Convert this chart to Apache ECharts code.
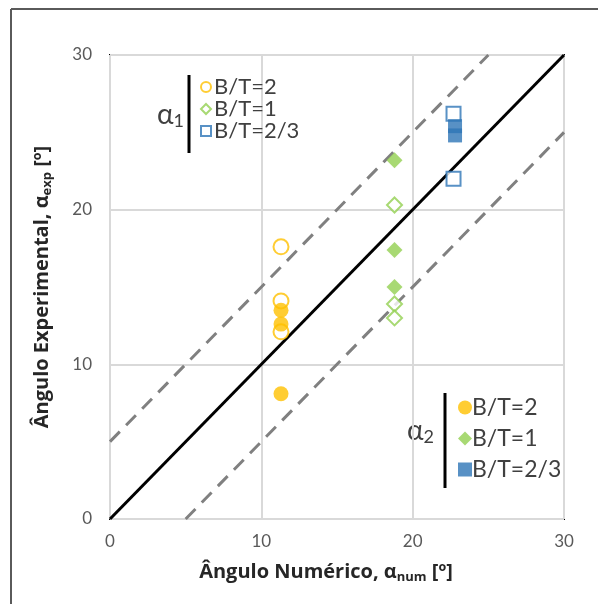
<!DOCTYPE html>
<html>
<head>
<meta charset="utf-8">
<script src="https://cdn.jsdelivr.net/npm/echarts@6/dist/echarts.min.js"></script>
<style>html,body{margin:0;padding:0;background:#fff}#c{width:598px;height:604px}</style>
</head>
<body>
<div id="c"></div>
<script>
// alpha_1 (open markers): [numerical, experimental]
const a1_BT2 = [[11.3, 17.6], [11.3, 14.1], [11.3, 12.1]];
const a1_BT1 = [[18.8, 20.3], [18.8, 13.9], [18.8, 13.0]];
const a1_BT23 = [[22.7, 26.2], [22.7, 22.0]];
// alpha_2 (filled markers)
const a2_BT2 = [[11.3, 13.5], [11.3, 12.6], [11.3, 8.1]];
const a2_BT1 = [[18.8, 23.2], [18.8, 17.4], [18.8, 15.0]];
const a2_BT23 = [[22.8, 25.4], [22.8, 24.8]];
// reference lines
const lineEqual = [[0, 0], [30, 30]];
const linePlus5 = [[0, 5], [25, 30]];
const lineMinus5 = [[5, 0], [30, 25]];
const axisTicks = [0, 10, 20, 30];
const legendLabels = {a1_2: 'B/T=2', a1_1: 'B/T=1', a1_23: 'B/T=2/3', a2_2: 'B/T=2', a2_1: 'B/T=1', a2_23: 'B/T=2/3'};

const FONT = 'Lato';
const TFONT = 'Open Sans';
const ORANGE = '#FFC000', GREEN = '#92D050', BLUE = '#2E75B6';
const chart = echarts.init(document.getElementById('c'));

function openSeries(name, data, symbol, color, size) {
  return {name, type: 'scatter', data, symbol, symbolSize: size, z: 3,
    itemStyle: {color: '#fff', borderColor: color, borderWidth: 2}};
}
function fillSeries(name, data, symbol, color, size) {
  return {name, type: 'scatter', data, symbol, symbolSize: size, z: 4,
    itemStyle: {color: color}};
}
function refLine(data, color, type) {
  return {type: 'line', data, symbol: 'none', silent: true, z: 2,
    lineStyle: {color, width: 3, type}};
}
const titleRich = {
  b: {fontFamily: TFONT, fontSize: 20, fontWeight: 'bold', color: '#262626'},
  s: {fontFamily: TFONT, fontSize: 13, fontWeight: 'bold', color: '#262626', verticalAlign: 'bottom', padding: [10, 0, 0, 0]}
};

chart.setOption({
  animation: false,
  grid: {left: 110, right: 34, top: 55, bottom: 85, show: true, borderColor: '#000', borderWidth: 2},
  xAxis: {type: 'value', min: 0, max: 30, interval: 10,
    axisLine: {show: false}, axisTick: {show: false},
    splitLine: {lineStyle: {color: '#d9d9d9', width: 2}},
    axisLabel: {fontFamily: FONT, fontSize: 17, color: '#595959', margin: 14},
    name: '{b|Ângulo Numérico, α}{s|num}{b| [º]}', nameLocation: 'middle', nameGap: 42,
    nameTextStyle: {rich: titleRich, padding: [0, 22, 0, 0]}
  },
  yAxis: {type: 'value', min: 0, max: 30, interval: 10,
    axisLine: {show: false}, axisTick: {show: false},
    splitLine: {lineStyle: {color: '#d9d9d9', width: 2}},
    axisLabel: {fontFamily: FONT, fontSize: 17, color: '#595959', margin: 18},
    name: '{b|Ângulo Experimental, α}{s|exp}{b| [º]}', nameLocation: 'middle', nameGap: 56, nameRotate: 90,
    nameTextStyle: {rich: titleRich}
  },
  legend: [
    {orient: 'vertical', left: 195, top: 71, itemGap: 0, itemWidth: 10, itemHeight: 10,
     data: ['a1_2', 'a1_1', 'a1_23'], formatter: n => legendLabels[n],
     textStyle: {fontFamily: FONT, fontSize: 22, color: '#404040', lineHeight: 21, padding: [0, 0, 0, -2]}},
    {orient: 'vertical', left: 453, top: 391, itemGap: 8, itemWidth: 14, itemHeight: 14,
     data: ['a2_2', 'a2_1', 'a2_23'], formatter: n => legendLabels[n],
     textStyle: {fontFamily: FONT, fontSize: 23, color: '#404040', padding: [0, 0, 0, -5]}}
  ],
  graphic: [
    {type: 'line', shape: {x1: 11, y1: 9, x2: 598, y2: 9}, style: {stroke: '#5a5a5a', lineWidth: 2}},
    {type: 'line', shape: {x1: 11, y1: 9, x2: 11, y2: 604}, style: {stroke: '#5a5a5a', lineWidth: 2}},
    {type: 'line', shape: {x1: 189, y1: 75, x2: 189, y2: 153}, style: {stroke: '#000', lineWidth: 3}},
    {type: 'line', shape: {x1: 445, y1: 393, x2: 445, y2: 488}, style: {stroke: '#000', lineWidth: 3}},
    {type: 'text', left: 157, top: 101, style: {rich: {a: {fontFamily: FONT, fontSize: 28, fill: '#404040'}, s: {fontFamily: FONT, fontSize: 18, fill: '#404040', padding: [12, 0, 0, 0]}}, text: '{a|α}{s|1}'}},
    {type: 'text', left: 407, top: 417, style: {rich: {a: {fontFamily: FONT, fontSize: 28, fill: '#404040'}, s: {fontFamily: FONT, fontSize: 18, fill: '#404040', padding: [12, 0, 0, 0]}}, text: '{a|α}{s|2}'}}
  ],
  series: [
    refLine(lineEqual, '#000', 'solid'),
    refLine(linePlus5, '#808080', [14, 9]),
    refLine(lineMinus5, '#808080', [14, 9]),
    openSeries('a1_2', a1_BT2, 'circle', ORANGE, 15),
    openSeries('a1_1', a1_BT1, 'diamond', GREEN, 15),
    openSeries('a1_23', a1_BT23, 'rect', BLUE, 14),
    fillSeries('a2_2', a2_BT2, 'circle', ORANGE, 15),
    fillSeries('a2_1', a2_BT1, 'diamond', GREEN, 16),
    fillSeries('a2_23', a2_BT23, 'rect', BLUE, 14)
  ]
});
</script>
</body>
</html>
